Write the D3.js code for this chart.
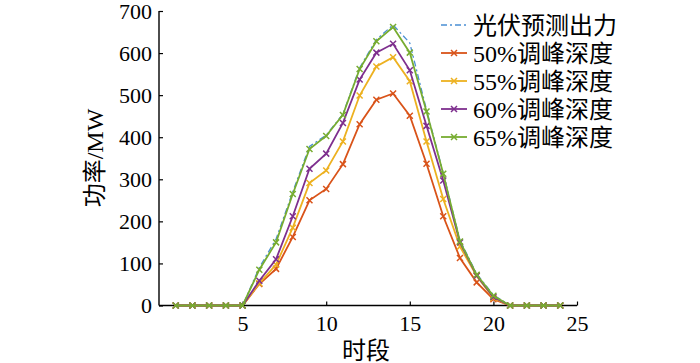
<!DOCTYPE html>
<html>
<head>
<meta charset="UTF-8">
<title>调峰深度 出力曲线</title>
<script src="https://cdn.jsdelivr.net/npm/d3@7"></script>
<style>
  body { margin: 0; background: #fff; }
</style>
</head>
<body>
<div id="chart"></div>
<script>
// 时段
var hours = d3.range(1, 25);
// 各曲线数值 (MW)
var pvForecast = [0,0,0,0,0, 90,158,270,378,405,455,565,632,667,624,465,315,155,75,25, 0,0,0,0];
var depth50 = [0,0,0,0,0, 51,87,163,250,277,336,431,489,504,451,337,212,113,55,15, 0,0,0,0];
var depth55 = [0,0,0,0,0, 53,97,185,291,321,390,499,568,590,533,390,253,140,70,18, 0,0,0,0];
var depth60 = [0,0,0,0,0, 59,110,212,325,361,434,537,601,622,559,427,297,150,71,20, 0,0,0,0];
var depth65 = [0,0,0,0,0, 85,150,265,372,403,453,562,628,662,601,461,313,152,73,23, 0,0,0,0];
var xTicks = [5, 10, 15, 20, 25];
var yTicks = [0, 100, 200, 300, 400, 500, 600, 700];

var series = [
  { name: "光伏预测出力", values: pvForecast, color: "#4a8fd4", dash: "6,3,2,3", marker: false, w: 1.3 },
  { name: "50%调峰深度", values: depth50, color: "#D95319", marker: true, w: 1.8 },
  { name: "55%调峰深度", values: depth55, color: "#EDB120", marker: true, w: 1.8 },
  { name: "60%调峰深度", values: depth60, color: "#7E2F8E", marker: true, w: 1.8 },
  { name: "65%调峰深度", values: depth65, color: "#77AC30", marker: true, w: 1.8 }
];

var FONT = "'Liberation Serif', 'Times New Roman', 'Noto Sans CJK SC', serif";
var width = 700, height = 363;
var svg = d3.select("#chart").append("svg")
  .attr("width", width).attr("height", height);

var x = d3.scaleLinear().domain([0, 25]).range([159, 577]);
var y = d3.scaleLinear().domain([0, 700]).range([305.5, 11]);

// 坐标轴
var xAxis = svg.append("g").attr("transform", "translate(0," + y(0) + ")")
  .call(d3.axisBottom(x).tickValues(xTicks).tickSize(-4).tickPadding(10));
var yAxis = svg.append("g").attr("transform", "translate(" + x(0) + ",0)")
  .call(d3.axisLeft(y).tickValues(yTicks).tickSize(-4).tickPadding(7));
[xAxis, yAxis].forEach(function (g) {
  g.select(".domain").attr("stroke", "#000").attr("stroke-width", 1.4);
  g.selectAll(".tick line").attr("stroke", "#000").attr("stroke-width", 1.2);
  g.selectAll(".tick text").attr("fill", "#000")
    .style("font-size", "22px").style("font-family", FONT);
});
yAxis.select(".domain").attr("d", "M0," + y(700) + "V" + y(0));
xAxis.select(".domain").attr("d", "M" + x(0) + ",0H" + x(25));

// 轴标题
svg.append("text").attr("x", 366).attr("y", 359).attr("text-anchor", "middle")
  .style("font-size", "24px").style("font-family", FONT).text("时段");
svg.append("text").attr("transform", "translate(103,158) rotate(-90)")
  .attr("text-anchor", "middle").style("font-size", "24px").style("font-family", FONT)
  .text("功率/MW");

var line = d3.line().x(function (d, i) { return x(hours[i]); }).y(function (d) { return y(d); });

function cross(g, cx, cy, s, color) {
  g.append("path")
    .attr("d", "M" + (cx - s) + "," + (cy - s) + "L" + (cx + s) + "," + (cy + s) +
      "M" + (cx - s) + "," + (cy + s) + "L" + (cx + s) + "," + (cy - s))
    .attr("stroke", color).attr("stroke-width", 1.5).attr("fill", "none");
}

series.forEach(function (s) {
  var g = svg.append("g");
  g.append("path").datum(s.values).attr("d", line)
    .attr("fill", "none").attr("stroke", s.color).attr("stroke-width", s.w)
    .attr("stroke-dasharray", s.dash || null);
  if (s.marker) {
    s.values.forEach(function (v, i) { cross(g, x(hours[i]), y(v), 3, s.color); });
  }
});

// 图例
var legend = svg.append("g");
series.forEach(function (s, i) {
  var ly = 25 + i * 28;
  legend.append("line").attr("x1", 441).attr("x2", 467).attr("y1", ly).attr("y2", ly)
    .attr("stroke", s.color).attr("stroke-width", s.w)
    .attr("stroke-dasharray", s.dash || null);
  if (s.marker) cross(legend, 454, ly, 3, s.color);
  legend.append("text").attr("x", 473).attr("y", ly + 8.5)
    .style("font-size", "24px").style("font-family", FONT).attr("fill", "#000").text(s.name);
});
</script>
</body>
</html>
